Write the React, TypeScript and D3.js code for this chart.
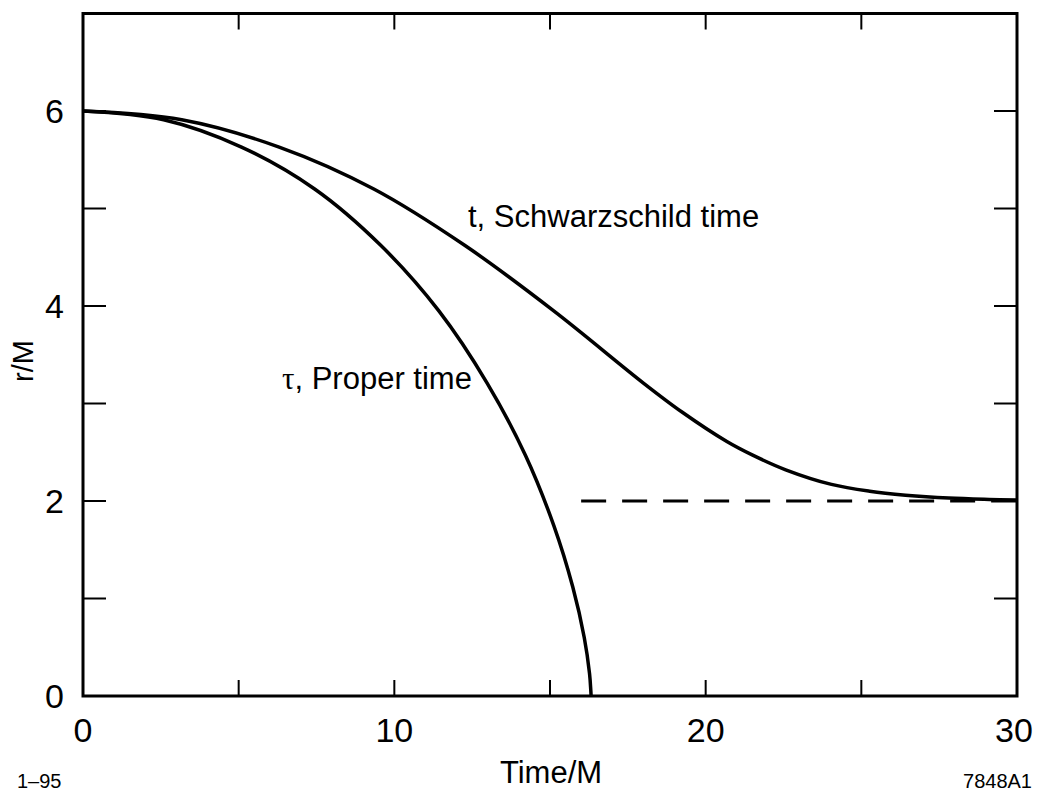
import { useRef, useEffect } from "react";
import * as d3 from "d3";

// r/M against proper time tau
const properTime = [0, 2.59, 5.09, 7.44, 9.57, 11.43, 12.98, 14.21, 15.12, 15.73, 16.1, 16.27, 16.31, 16.32];
const properR = [6, 5.91, 5.63, 5.2, 4.62, 3.95, 3.21, 2.47, 1.75, 1.12, 0.6, 0.23, 0.06, 0];

// r/M against Schwarzschild time t
const schwTime = [0, 3.17, 6.3, 9.34, 12.27, 15.12, 18.0, 19.25, 20.68, 21.51, 22.57, 24.04, 25.27, 26.42, 27.81, 29.11, 30];
const schwR = [6, 5.91, 5.63, 5.2, 4.62, 3.95, 3.21, 2.91, 2.61, 2.47, 2.32, 2.17, 2.1, 2.06, 2.03, 2.016, 2.01];

// horizon r = 2M, dashed
const horizonTime = [16, 30];
const horizonR = [2, 2];

const xTicks = [0, 5, 10, 15, 20, 25, 30];
const xTickLabels = [0, 10, 20, 30];
const yTicks = [0, 1, 2, 3, 4, 5, 6, 7];
const yTickLabels = [0, 2, 4, 6];

const W = 1042;
const H = 794;
const FONT = "'Liberation Sans', Arial, Helvetica, sans-serif";

const App = () => {
  const svgRef = useRef<SVGSVGElement>(null);

  useEffect(() => {
    const svg = d3.select(svgRef.current);
    svg.selectAll("*").remove();

    const x = d3.scaleLinear().domain([0, 30]).range([83, 1017]);
    const y = d3.scaleLinear().domain([0, 7]).range([696, 13.5]);

    const g = svg.append("g");

    // ticks, inside, all four sides
    const xIn = xTicks.filter((d) => d > 0 && d < 30);
    const yIn = yTicks.filter((d) => d > 0 && d < 7);
    g.selectAll(".xt-bot")
      .data(xIn)
      .enter()
      .append("line")
      .attr("x1", (d) => x(d))
      .attr("x2", (d) => x(d))
      .attr("y1", y(0))
      .attr("y2", y(0) - 16)
      .style("stroke", "#000")
      .style("stroke-width", 2);
    g.selectAll(".xt-top")
      .data(xIn)
      .enter()
      .append("line")
      .attr("x1", (d) => x(d))
      .attr("x2", (d) => x(d))
      .attr("y1", y(7))
      .attr("y2", y(7) + 16)
      .style("stroke", "#000")
      .style("stroke-width", 2);
    g.selectAll(".yt-left")
      .data(yIn)
      .enter()
      .append("line")
      .attr("x1", x(0))
      .attr("x2", x(0) + 23)
      .attr("y1", (d) => y(d))
      .attr("y2", (d) => y(d))
      .style("stroke", "#000")
      .style("stroke-width", 2);
    g.selectAll(".yt-right")
      .data(yIn)
      .enter()
      .append("line")
      .attr("x1", x(30))
      .attr("x2", x(30) - 23)
      .attr("y1", (d) => y(d))
      .attr("y2", (d) => y(d))
      .style("stroke", "#000")
      .style("stroke-width", 2);

    // tick labels
    g.selectAll(".xl")
      .data(xTickLabels)
      .enter()
      .append("text")
      .attr("x", (d) => x(d) - (d === 30 ? 3 : 0))
      .attr("y", 742)
      .attr("text-anchor", "middle")
      .style("font-family", FONT)
      .style("font-size", "34px")
      .text((d) => d);
    g.selectAll(".yl")
      .data(yTickLabels)
      .enter()
      .append("text")
      .attr("x", 64)
      .attr("y", (d) => y(d) + 12)
      .attr("text-anchor", "end")
      .style("font-family", FONT)
      .style("font-size", "34px")
      .text((d) => d);

    // axis titles
    g.append("text")
      .attr("x", 551)
      .attr("y", 783)
      .attr("text-anchor", "middle")
      .style("font-family", FONT)
      .style("font-size", "31px")
      .text("Time/M");
    g.append("text")
      .attr("transform", "translate(33,361) rotate(-90)")
      .attr("text-anchor", "middle")
      .style("font-family", FONT)
      .style("font-size", "29px")
      .text("r/M");

    // curves
    const line = d3
      .line<[number, number]>()
      .x((d) => x(d[0]))
      .y((d) => y(d[1]))
      .curve(d3.curveCatmullRom.alpha(0.5));

    g.append("path")
      .datum(properTime.map((t, i) => [t, properR[i]] as [number, number]))
      .attr("fill", "none")
      .attr("stroke", "#000")
      .attr("stroke-width", 3.5)
      .attr("d", line);

    g.append("path")
      .datum(schwTime.map((t, i) => [t, schwR[i]] as [number, number]))
      .attr("fill", "none")
      .attr("stroke", "#000")
      .attr("stroke-width", 3.5)
      .attr("d", line);

    g.append("path")
      .datum(horizonTime.map((t, i) => [t, horizonR[i]] as [number, number]))
      .attr("fill", "none")
      .attr("stroke", "#000")
      .attr("stroke-width", 3)
      .attr("stroke-dasharray", "25,16")
      .attr("d", d3.line<[number, number]>().x((d) => x(d[0])).y((d) => y(d[1])));

    // frame
    g.append("rect")
      .attr("x", x(0))
      .attr("y", y(7))
      .attr("width", x(30) - x(0))
      .attr("height", y(0) - y(7))
      .attr("fill", "none")
      .attr("stroke", "#000")
      .attr("stroke-width", 3);

    // curve labels
    g.append("text")
      .attr("x", 468)
      .attr("y", 227)
      .style("font-family", FONT)
      .style("font-size", "31px")
      .text("t, Schwarzschild time");
    const tau = g
      .append("text")
      .attr("x", 282)
      .attr("y", 389)
      .style("font-family", FONT)
      .style("font-size", "31px");
    tau.append("tspan").style("font-family", "'Liberation Serif', 'DejaVu Serif', serif").text("τ");
    tau.append("tspan").text(", Proper time");

    // corner codes
    g.append("text")
      .attr("x", 17)
      .attr("y", 788)
      .style("font-family", FONT)
      .style("font-size", "20px")
      .text("1–95");
    g.append("text")
      .attr("x", 1032)
      .attr("y", 788)
      .attr("text-anchor", "end")
      .style("font-family", FONT)
      .style("font-size", "20px")
      .text("7848A1");
  }, []);

  return (
    <svg
      ref={svgRef}
      width={W}
      height={H}
      style={{ position: "absolute", left: 0, top: 0, background: "#fff" }}
    ></svg>
  );
};

export default App;
